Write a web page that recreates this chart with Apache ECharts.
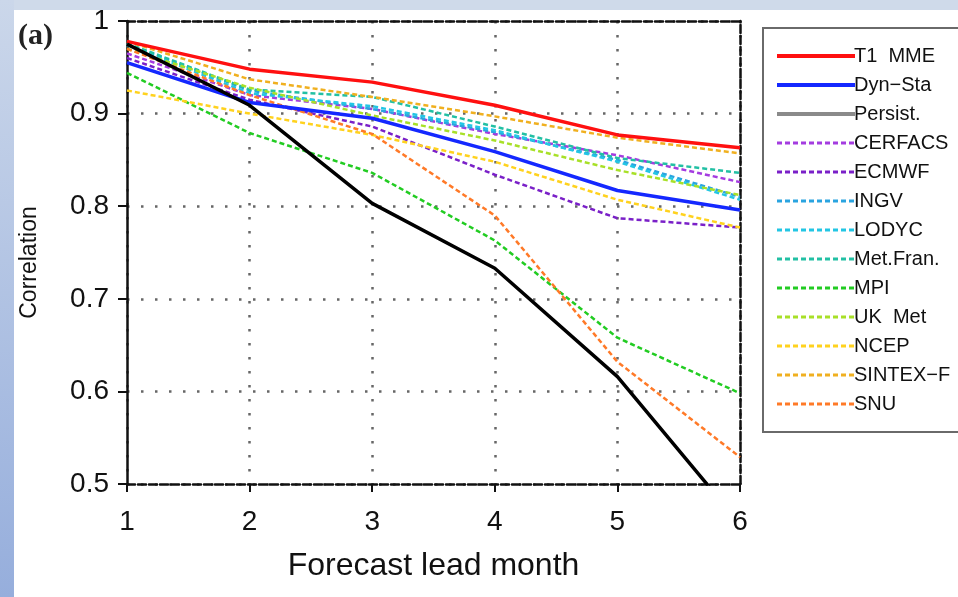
<!DOCTYPE html>
<html>
<head>
<meta charset="utf-8">
<script src="https://cdn.jsdelivr.net/npm/echarts@6/dist/echarts.min.js"></script>
<style>
html,body{margin:0;padding:0;background:#fff;}
#chart{width:958px;height:597px;}
</style>
</head>
<body>
<div id="chart"></div>
<script>
const months = [1, 2, 3, 4, 5, 6];
const yTicks = [0.5, 0.6, 0.7, 0.8, 0.9, 1];

const t1mme    = [0.978, 0.948, 0.934, 0.909, 0.877, 0.863];
const dynSta   = [0.955, 0.912, 0.895, 0.859, 0.817, 0.796];
const persist  = [0.975, 0.909, 0.803, 0.733, 0.616, 0.457];
const cerfacs  = [0.965, 0.920, 0.905, 0.878, 0.855, 0.826];
const ecmwf    = [0.960, 0.915, 0.886, 0.834, 0.787, 0.777];
const ingv     = [0.975, 0.925, 0.905, 0.880, 0.850, 0.810];
const lodyc    = [0.974, 0.922, 0.908, 0.882, 0.848, 0.807];
const metFran  = [0.976, 0.926, 0.918, 0.886, 0.852, 0.836];
const mpi      = [0.944, 0.879, 0.836, 0.763, 0.658, 0.598];
const ukMet    = [0.970, 0.928, 0.898, 0.871, 0.839, 0.812];
const ncep     = [0.925, 0.900, 0.877, 0.848, 0.807, 0.777];
const sintexF  = [0.978, 0.937, 0.918, 0.897, 0.874, 0.857];
const snu      = [0.970, 0.920, 0.878, 0.790, 0.632, 0.529];

const seriesDefs = [
  {name: 'T1  MME',   data: t1mme,   color: '#ff1010', solid: true},
  {name: 'Dyn\u2212Sta', data: dynSta, color: '#1428ff', solid: true},
  {name: 'Persist.',  data: persist, color: '#000000', solid: true, legendColor: '#8a8a8a'},
  {name: 'CERFACS',   data: cerfacs, color: '#a43ce0'},
  {name: 'ECMWF',     data: ecmwf,   color: '#7a20c8'},
  {name: 'INGV',      data: ingv,    color: '#2aa4e0'},
  {name: 'LODYC',     data: lodyc,   color: '#22c6e4'},
  {name: 'Met.Fran.', data: metFran, color: '#22c0a4'},
  {name: 'MPI',       data: mpi,     color: '#22cc22'},
  {name: 'UK  Met',   data: ukMet,   color: '#a8e028'},
  {name: 'NCEP',      data: ncep,    color: '#ffd21e'},
  {name: 'SINTEX\u2212F', data: sintexF, color: '#f0b020'},
  {name: 'SNU',       data: snu,     color: '#ff7a28'}
];

const chart = echarts.init(document.getElementById('chart'), null, {renderer: 'canvas'});

const series = seriesDefs.map(s => ({
  name: s.name,
  type: 'line',
  symbol: 'none',
  smooth: false,
  clip: true,
  z: s.solid ? 3 : 2,
  data: s.data.map((v, i) => [months[i], v]),
  lineStyle: s.solid ? {color: s.color, width: 3.5, type: 'solid'} : {color: s.color, width: 2.5, type: [5, 3]},
  itemStyle: {color: s.color}
}));

const legendData = seriesDefs.map(s => {
  const item = {name: s.name, itemStyle: {opacity: 0}, lineStyle: {width: s.solid ? 4 : 3}};
  if (s.legendColor) { item.itemStyle.color = s.legendColor; item.lineStyle.color = s.legendColor; }
  return item;
});

const labelFont = {fontFamily: 'Liberation Sans, Arial, sans-serif', color: '#111'};

chart.setOption({
  backgroundColor: '#ffffff',
  animation: false,
  graphic: [
    {type: 'rect', left: 0, top: 0, shape: {width: 958, height: 10}, style: {fill: '#cfdaea'}, silent: true, z: -10},
    {type: 'rect', left: 0, top: 0, shape: {width: 14, height: 597}, silent: true, z: -10,
      style: {fill: new echarts.graphic.LinearGradient(0, 0, 0, 1, [{offset: 0, color: '#cbd7ea'}, {offset: 1, color: '#96aedc'}])}},
    {type: 'rect', left: 762, top: 27, shape: {width: 220, height: 404}, silent: true, z: -5,
      style: {fill: 'transparent', stroke: '#6a6a6a', lineWidth: 2}},
    {type: 'text', left: 18, top: 21, silent: true,
      style: {text: '(a)', font: 'bold 30px "Liberation Serif", "Times New Roman", serif', fill: '#222'}}
  ],
  grid: {left: 127, top: 21, right: 218, bottom: 113, containLabel: false},
  legend: {
    orient: 'vertical',
    left: 770, top: 41,
    itemWidth: 78, itemHeight: 14, itemGap: 9,
    data: legendData,
    itemStyle: {opacity: 0},
    textStyle: {fontFamily: 'Liberation Sans, Arial, sans-serif', fontSize: 20, color: '#111', padding: [0, 0, 0, -6]},
    selectedMode: false
  },
  xAxis: [{
    type: 'value', min: 1, max: 6, interval: 1,
    name: 'Forecast lead month', nameLocation: 'middle', nameGap: 66,
    nameTextStyle: Object.assign({fontSize: 32}, labelFont),
    axisLine: {lineStyle: {color: '#111', width: 2.5, type: [8, 3]}},
    axisTick: {show: true, inside: false, length: 8, lineStyle: {color: '#111', width: 2}},
    axisLabel: Object.assign({fontSize: 28, margin: 24}, labelFont),
    splitLine: {show: true, lineStyle: {color: '#666', width: 2.5, type: [2.5, 11.5]}}
  }, {
    type: 'value', min: 1, max: 6, interval: 1, position: 'top',
    axisLine: {lineStyle: {color: '#111', width: 2.5, type: [8, 3]}},
    axisTick: {show: false}, axisLabel: {show: false}, splitLine: {show: false}
  }],
  yAxis: [{
    type: 'value', min: 0.5, max: 1, interval: 0.1,
    name: 'Correlation', nameLocation: 'middle', nameGap: 86, nameRotate: 90,
    nameTextStyle: Object.assign({fontSize: 23, padding: [0, 20, 0, 0]}, labelFont),
    axisLine: {lineStyle: {color: '#111', width: 2.5}},
    axisTick: {show: true, inside: false, length: 9, lineStyle: {color: '#111', width: 2}},
    axisLabel: Object.assign({fontSize: 28, margin: 18, formatter: v => String(Math.round(v * 10) / 10)}, labelFont),
    splitLine: {show: true, lineStyle: {color: '#666', width: 2.5, type: [2.5, 11.5]}}
  }, {
    type: 'value', min: 0.5, max: 1, interval: 0.1, position: 'right',
    axisLine: {show: true, lineStyle: {color: '#111', width: 2.5, type: [8, 3]}},
    axisTick: {show: false}, axisLabel: {show: false}, splitLine: {show: false}
  }],
  series: series
});
</script>
</body>
</html>
